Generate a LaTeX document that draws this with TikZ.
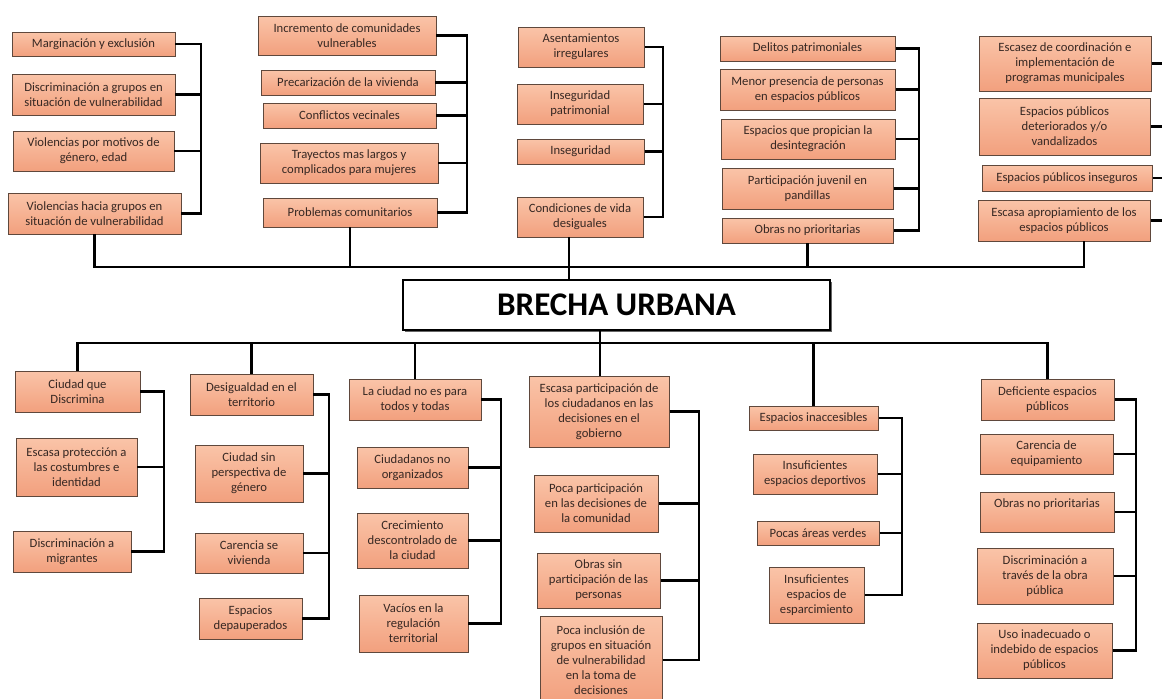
\documentclass[tikz,border=0pt]{standalone}
\usepackage{fontspec}
\setmainfont{Carlito}
\usetikzlibrary{shadows, positioning}
\definecolor{boxtop}{RGB}{250,196,168}
\definecolor{boxbot}{RGB}{242,160,126}
\definecolor{boxline}{RGB}{95,72,60}
\definecolor{boxtext}{RGB}{55,40,35}
\tikzset{
  spot/.style n args={4}{at={({(#1+#3)/2},{(#2+#4)/2})},
                minimum width={(#3-#1)*0.025cm},
                minimum height={(#4-#2)*0.025cm}},
  cause/.style={rectangle, draw=boxline, line width=0.7pt,
                top color=boxtop, bottom color=boxbot,
                inner sep=0pt, align=center, text=boxtext,
                font=\fontsize{9}{10.6}\selectfont},
  core/.style={rectangle, draw, line width=1.2pt, fill=white,
               inner sep=0pt, font=\fontsize{23.5}{26}\selectfont\bfseries,
               drop shadow={shadow xshift=1.5pt, shadow yshift=-1.5pt,
                            fill=black!75, opacity=0.8}},
  link/.style={line width=2pt, black},
}

\begin{document}
\begin{tikzpicture}[x=0.025cm, y=-0.025cm]
  \path[use as bounding box, fill=white] (0,0) rectangle (1162,698);

  % causas (arriba)
  \node[cause, spot={12}{32}{175}{56}] (a1) {Marginación y exclusión};
  \node[cause, spot={12}{74}{175}{115}] (a2) {Discriminación a grupos en\\situación de vulnerabilidad};
  \node[cause, spot={13}{131}{174}{171}] (a3) {Violencias por motivos de\\género, edad};
  \node[cause, spot={8}{193}{181}{234}] (a4) {Violencias hacia grupos en\\situación de vulnerabilidad};

  \node[cause, spot={258}{16}{436}{55}] (b1) {Incremento de comunidades\\vulnerables};
  \node[cause, spot={261}{70}{435}{95}] (b2) {Precarización de la vivienda};
  \node[cause, spot={263}{103}{436}{128}] (b3) {Conflictos vecinales};
  \node[cause, spot={260}{143}{438}{183}] (b4) {Trayectos mas largos y\\complicados para mujeres};
  \node[cause, spot={263}{198}{437}{227}] (b5) {Problemas comunitarios};

  \node[cause, spot={518}{27}{644}{67}] (c1) {Asentamientos\\irregulares};
  \node[cause, spot={517}{84}{643}{124}] (c2) {Inseguridad\\patrimonial};
  \node[cause, spot={517}{139}{644}{164}] (c3) {Inseguridad};
  \node[cause, spot={517}{197}{643}{237}] (c4) {Condiciones de vida\\desiguales};

  \node[cause, spot={720}{36}{895}{61}] (d1) {Delitos patrimoniales};
  \node[cause, spot={720}{69}{895}{110}] (d2) {Menor presencia de personas\\en espacios públicos};
  \node[cause, spot={721}{119}{895}{159}] (d3) {Espacios que propician la\\desintegración};
  \node[cause, spot={722}{168}{893}{209}] (d4) {Participación juvenil en\\pandillas};
  \node[cause, spot={722}{218}{893}{243}] (d5) {Obras no prioritarias};

  \node[cause, spot={979}{36}{1151}{91}] (e1) {Escasez de coordinación e\\implementación de\\programas municipales};
  \node[cause, spot={979}{98}{1150}{155}] (e2) {Espacios públicos\\deteriorados y/o\\vandalizados};
  \node[cause, spot={982}{165}{1152}{191}] (e3) {Espacios públicos inseguros};
  \node[cause, spot={978}{200}{1150}{241}] (e4) {Escasa apropiamiento de los\\espacios públicos};

  \node[core, spot={403}{280}{830}{330}] (brecha) {BRECHA URBANA};

  % efectos (abajo)
  \node[cause, spot={15}{371}{140}{412}] (k1) {Ciudad que\\Discrimina};
  \node[cause, spot={16}{438}{137}{496}] (k2) {Escasa protección a\\las costumbres e\\identidad};
  \node[cause, spot={13}{531}{131}{572}] (k3) {Discriminación a\\migrantes};

  \node[cause, spot={190}{374}{313}{415}] (l1) {Desigualdad en el\\territorio};
  \node[cause, spot={195}{445}{303}{502}] (l2) {Ciudad sin\\perspectiva de\\género};
  \node[cause, spot={195}{533}{303}{573}] (l3) {Carencia se\\vivienda};
  \node[cause, spot={199}{598}{302}{639}] (l4) {Espacios\\depauperados};

  \node[cause, spot={349}{379}{481}{420}] (m1) {La ciudad no es para\\todos y todas};
  \node[cause, spot={357}{447}{468}{488}] (m2) {Ciudadanos no\\organizados};
  \node[cause, spot={357}{513}{468}{568}] (m3) {Crecimiento\\descontrolado de\\la ciudad};
  \node[cause, spot={359}{595}{468}{652}] (m4) {Vacíos en la\\regulación\\territorial};

  \node[cause, spot={529}{376}{669}{447}] (p1) {Escasa participación de\\los ciudadanos en las\\decisiones en el\\gobierno};
  \node[cause, spot={534}{475}{658}{532}] (p2) {Poca participación\\en las decisiones de\\la comunidad};
  \node[cause, spot={537}{553}{660}{608}] (p3) {Obras sin\\participación de las\\personas};
  \node[cause, spot={540}{616}{662}{704}] (p4) {Poca inclusión de\\grupos en situación\\de vulnerabilidad\\en la toma de\\decisiones};

  \node[cause, spot={749}{406}{878}{430}] (o1) {Espacios inaccesibles};
  \node[cause, spot={753}{454}{877}{494}] (o2) {Insuficientes\\espacios deportivos};
  \node[cause, spot={757}{521}{879}{545}] (o3) {Pocas áreas verdes};
  \node[cause, spot={769}{567}{864}{623}] (o4) {Insuficientes\\espacios de\\esparcimiento};

  \node[cause, spot={981}{379}{1114}{420}] (n1) {Deficiente espacios\\públicos};
  \node[cause, spot={980}{434}{1113}{474}] (n2) {Carencia de\\equipamiento};
  \node[cause, spot={980}{492}{1114}{532}, text depth=13pt] (n3) {Obras no prioritarias};
  \node[cause, spot={977}{548}{1113}{604}] (n4) {Discriminación a\\través de la obra\\pública};
  \node[cause, spot={977}{623}{1112}{678}] (n5) {Uso inadecuado o\\indebido de espacios\\públicos};

  % corchetes
  \foreach \bx/\first/\last/\members in {
      201/a1/a4/{a2,a3}, 467/b1/b5/{b2,b3,b4}, 663/c1/c4/{c2,c3},
      919/d1/d5/{d2,d3,d4}, 164/k1/k3/{k2}, 329/l1/l4/{l2,l3},
      501/m1/m4/{m2,m3}, 699/p1/p4/{p2,p3}, 902/o1/o4/{o2,o3},
      1136/n1/n5/{n2,n3,n4}}
  {
    \draw[link] (\first.east) -| (\last.east -| \bx,0) -- (\last.east);
    \foreach \n in \members
      \draw[link] (\n.east) -- (\n.east -| \bx,0);
  }
  \foreach \n in {e1,e2,e3,e4}
    \draw[link] (\n.east) -- (\n.east -| 1170,0);

  % barras
  \coordinate (tr) at (1084,267);
  \coordinate (tm) at (569,267);
  \coordinate (bm) at (600,343);
  \draw[link] (a4.south) |- (tr) -- (tr |- e4.south);
  \foreach \n in {b5,d5}
    \draw[link] (\n.south) -- (\n.south |- tr);
  \draw[link] (tm |- c4.south) -- (tm |- brecha.north);

  \draw[link] (k1.north) |- (n1.north |- bm) -- (n1.north);
  \draw[link] (bm |- brecha.south) -- (bm |- p1.north);
  \foreach \n in {l1,m1,o1}
    \draw[link] (\n.north) -- (\n.north |- bm);
\end{tikzpicture}
\end{document}
